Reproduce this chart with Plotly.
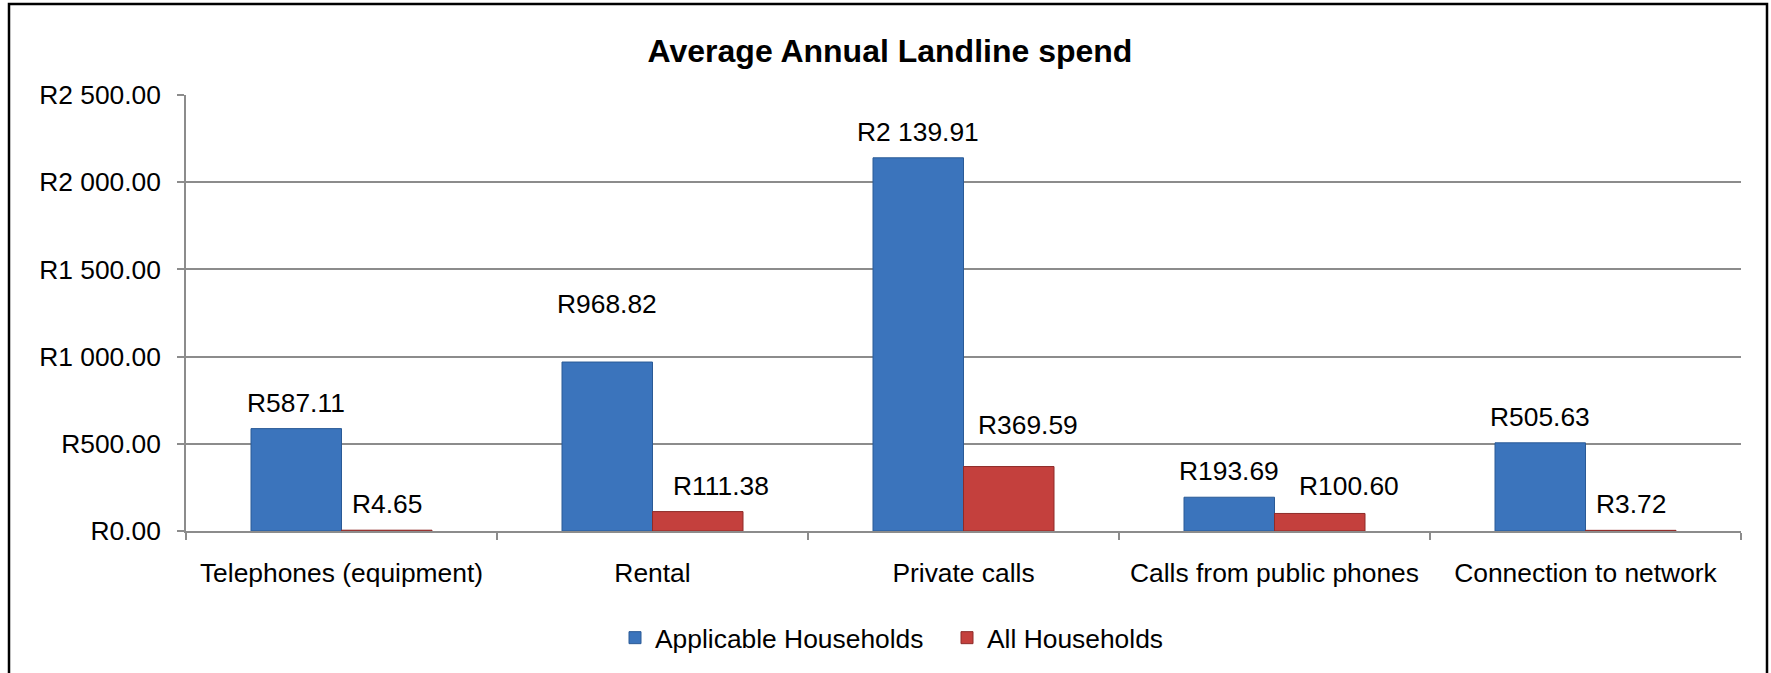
import plotly.graph_objects as go

categories = ["Telephones (equipment)", "Rental", "Private calls",
              "Calls from public phones", "Connection to network"]
applicable = [587.11, 968.82, 2139.91, 193.69, 505.63]
all_households = [4.65, 111.38, 369.59, 100.60, 3.72]
series_names = ["Applicable Households", "All Households"]
y_ticks = [0, 500, 1000, 1500, 2000, 2500]

# manual data-label nudges (px) as placed in the original chart: (series, category) -> (dx, dy)
label_nudge = {
    (0, "Rental"): (0, 32),
    (1, "Rental"): (23, 0),
    (1, "Private calls"): (19, 16),
    (1, "Calls from public phones"): (29, 1),
}


def rand(v):
    return "R" + f"{v:,.2f}".replace(",", " ")


FONT = "Arial, Liberation Sans, sans-serif"
FS = 26.4
W, H = 1771, 673
L, R, T, B = 186, 30, 95, 142
BARGAP = 0.418

colors = ["#3B74BC", "#C4403D"]
edges = ["#2A5A96", "#8E2B29"]

fig = go.Figure()
for name, vals, c, e in zip(series_names, [applicable, all_households], colors, edges):
    fig.add_trace(go.Bar(
        x=categories, y=vals, name=name,
        marker=dict(color=c, line=dict(color=e, width=1)),
        hoverinfo="x+y",
    ))

pw = W - L - R
ph = H - T - B
cat_w = pw / len(categories)
bar_w = cat_w * (1 - BARGAP) / 2

annotations = []
for k, vals in enumerate([applicable, all_households]):
    shift = (k - 0.5) * bar_w
    for cat, v in zip(categories, vals):
        dx, dy = label_nudge.get((k, cat), (0, 0))
        annotations.append(dict(
            x=cat, y=v, xref="x", yref="y", text=rand(v), showarrow=False,
            xanchor="center", yanchor="bottom", xshift=shift + dx, yshift=9 + dy,
            font=dict(size=FS, family=FONT, color="#000000"),
        ))


def px_x(x):
    return (x - L) / pw


def px_y(y):
    return (H - B - y) / ph


fig.update_layout(
    width=W, height=H,
    margin=dict(l=L, r=R, t=T, b=B, autoexpand=False),
    paper_bgcolor="white", plot_bgcolor="white",
    font=dict(family=FONT, size=FS, color="#000000"),
    barmode="group", bargap=BARGAP, bargroupgap=0,
    title=dict(text="<b>Average Annual Landline spend</b>",
               font=dict(size=32, family=FONT, color="#000000"),
               xref="container", x=890 / W, xanchor="center",
               yref="container", y=1 - 51 / H, yanchor="middle"),
    legend=dict(orientation="h", xref="paper", yref="paper",
                x=px_x(615), xanchor="left", y=px_y(638), yanchor="middle",
                font=dict(size=FS, family=FONT, color="#000000"),
                itemwidth=30, traceorder="normal",
                entrywidth=287, entrywidthmode="pixels"),
    xaxis=dict(showgrid=False, showline=True, linecolor="#8C8C8C", linewidth=1.5,
               ticks="outside", tickson="boundaries", ticklen=7, tickcolor="#8C8C8C",
               tickwidth=1.5, tickfont=dict(size=FS, family=FONT, color="#000000"),
               ticklabelstandoff=18, zeroline=False, automargin=False),
    yaxis=dict(range=[0, 2500], tickmode="array", tickvals=y_ticks,
               ticktext=[rand(t) for t in y_ticks],
               showgrid=True, gridcolor="#8C8C8C", gridwidth=1.5,
               showline=True, linecolor="#8C8C8C", linewidth=1.5,
               ticks="outside", ticklen=7, tickcolor="#8C8C8C", tickwidth=1.5,
               tickfont=dict(size=FS, family=FONT, color="#000000"),
               ticklabelstandoff=11, zeroline=False, automargin=False),
    annotations=annotations,
    shapes=[dict(type="rect", xref="paper", yref="paper",
                 x0=px_x(9), x1=px_x(1767), y0=px_y(4), y1=px_y(690),
                 line=dict(color="#000000", width=2.5), fillcolor="rgba(0,0,0,0)",
                 layer="above")],
)

fig.write_html("out.html", config={"displayModeBar": False},
               post_script="document.body.style.margin='0';"
                           "document.body.style.overflow='hidden';")
